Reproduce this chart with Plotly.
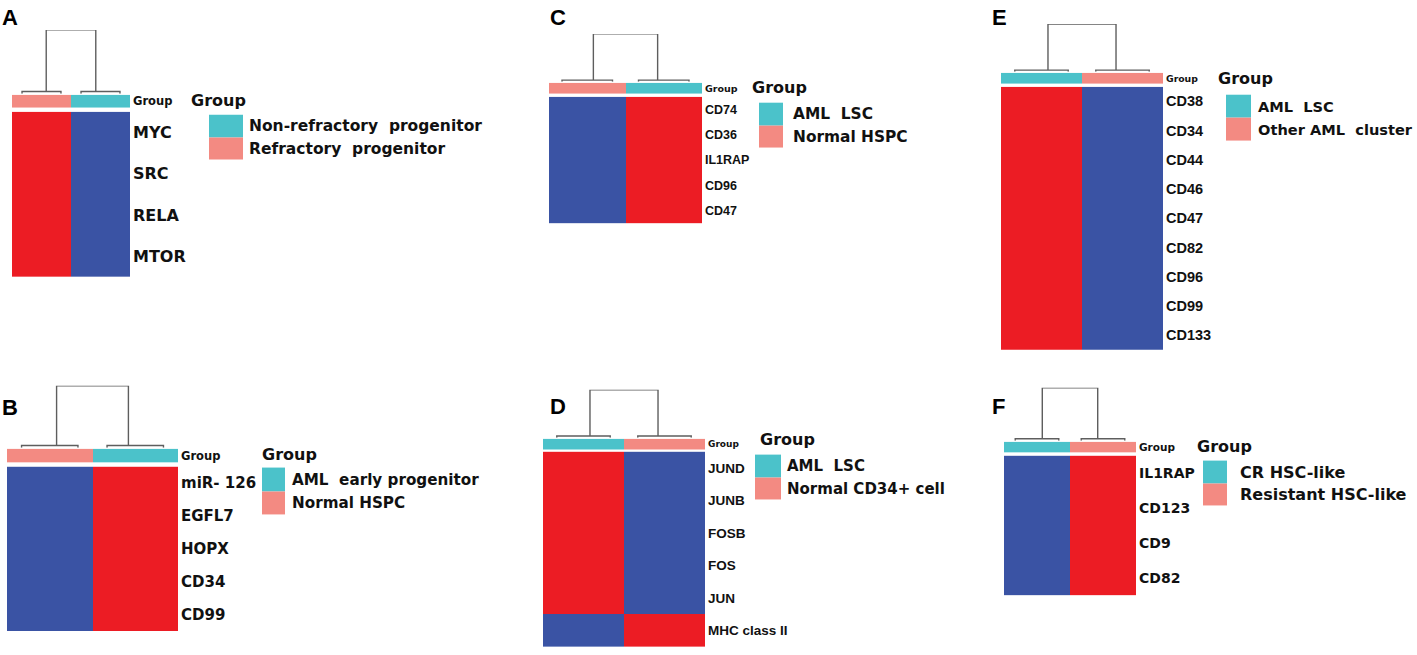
import plotly.graph_objects as go

W, H = 1417, 655

RED = "#EC1C24"
BLUE = "#3A53A4"
CYAN = "#4BC2CA"
SALMON = "#F38A82"
DGREY = "#5E5E5E"
FONT = "DejaVu Sans"
GFONT = "Liberation Sans"
NB = "\u00a0"

# ---------------- data ----------------
A_genes = ["MYC", "SRC", "RELA", "MTOR"]
A_cols = ["Refractory" + NB + " progenitor", "Non-refractory" + NB + " progenitor"]
A_values = [[1, -1], [1, -1], [1, -1], [1, -1]]
A_legend = ["Non-refractory" + NB + " progenitor", "Refractory" + NB + " progenitor"]

B_genes = ["miR- 126", "EGFL7", "HOPX", "CD34", "CD99"]
B_cols = ["Normal HSPC", "AML" + NB + " early progenitor"]
B_values = [[-1, 1], [-1, 1], [-1, 1], [-1, 1], [-1, 1]]
B_legend = ["AML" + NB + " early progenitor", "Normal HSPC"]

C_genes = ["CD74", "CD36", "IL1RAP", "CD96", "CD47"]
C_cols = ["Normal HSPC", "AML" + NB + " LSC"]
C_values = [[-1, 1], [-1, 1], [-1, 1], [-1, 1], [-1, 1]]
C_legend = ["AML" + NB + " LSC", "Normal HSPC"]

D_genes = ["JUND", "JUNB", "FOSB", "FOS", "JUN", "MHC class II"]
D_cols = ["AML" + NB + " LSC", "Normal CD34+ cell"]
D_values = [[1, -1], [1, -1], [1, -1], [1, -1], [1, -1], [-1, 1]]
D_legend = ["AML" + NB + " LSC", "Normal CD34+ cell"]

E_genes = ["CD38", "CD34", "CD44", "CD46", "CD47", "CD82", "CD96", "CD99", "CD133"]
E_cols = ["AML" + NB + " LSC", "Other AML" + NB + " cluster"]
E_values = [[1, -1]] * 9
E_legend = ["AML" + NB + " LSC", "Other AML" + NB + " cluster"]

F_genes = ["IL1RAP", "CD123", "CD9", "CD82"]
F_cols = ["CR HSC-like", "Resistant HSC-like"]
F_values = [[-1, 1], [-1, 1], [-1, 1], [-1, 1]]
F_legend = ["CR HSC-like", "Resistant HSC-like"]

# dendrogram: merge height, sub-cluster height, sub-cluster join positions
dend_merge = 1.0
dend_sub = 0.035
dend_join = [0.08, 0.92]

panels = [
    dict(letter="A", genes=A_genes, cols=A_cols, values=A_values, legend=A_legend,
         hx=(12, 130), hy=(111, 277), gy=(94, 107), dtop=29,
         gfont=FONT, gfs=16, sfs=11.5, lfs=15.5,
         title=(189, 100), sx=(209, 243), sy=(114, 137, 159), tx=247, let=(0, 17)),
    dict(letter="B", genes=B_genes, cols=B_cols, values=B_values, legend=B_legend,
         hx=(7, 178), hy=(467, 632), gy=(449, 463), dtop=386,
         gfont=FONT, gfs=15, sfs=11.5, lfs=15.2,
         title=(260, 455), sx=(262, 285), sy=(468, 492, 515), tx=290, let=(0, 408)),
    dict(letter="C", genes=C_genes, cols=C_cols, values=C_values, legend=C_legend,
         hx=(549, 702), hy=(96, 223), gy=(82, 93), dtop=33,
         gfont=GFONT, gfs=12.5, sfs=9.5, lfs=15.4,
         title=(750, 87), sx=(759, 783), sy=(102, 125, 147), tx=791, let=(548, 17)),
    dict(letter="D", genes=D_genes, cols=D_cols, values=D_values, legend=D_legend,
         hx=(543, 705), hy=(452, 648), gy=(439, 450), dtop=390,
         gfont=GFONT, gfs=13.5, sfs=9, lfs=15,
         title=(758, 440), sx=(755, 781), sy=(455, 478, 500), tx=785, let=(548, 407)),
    dict(letter="E", genes=E_genes, cols=E_cols, values=E_values, legend=E_legend,
         hx=(1001, 1163), hy=(86, 350), gy=(72, 83), dtop=23,
         gfont=GFONT, gfs=14.5, sfs=9.3, lfs=14.6,
         title=(1216, 78), sx=(1226, 1251), sy=(94, 117, 140), tx=1256, let=(990, 17)),
    dict(letter="F", genes=F_genes, cols=F_cols, values=F_values, legend=F_legend,
         hx=(1004, 1136), hy=(456, 596), gy=(442, 453), dtop=388,
         gfont=FONT, gfs=14, sfs=10.5, lfs=16,
         title=(1195, 447), sx=(1203, 1227), sy=(461, 484, 506), tx=1238, let=(990, 407)),
]


def fx(px):
    return px / W


def fy(py):
    return 1 - py / H


fig = go.Figure()
layout = {}
shapes = []
annotations = []
ax = 0

for p in panels:
    color_of = {p["legend"][0]: 0, p["legend"][1]: 1}
    # --- heatmap ---
    ax += 1
    xa, ya = f"x{ax}", f"y{ax}"
    fig.add_trace(go.Heatmap(z=p["values"], x=[0, 1], y=p["genes"], xaxis=xa, yaxis=ya,
                             colorscale=[[0, BLUE], [1, RED]], zmin=-1, zmax=1,
                             showscale=False, hoverinfo="skip"))
    layout[f"xaxis{ax}"] = dict(domain=[fx(p["hx"][0]), fx(p["hx"][1])], range=[-0.5, 1.5],
                                visible=False, fixedrange=True)
    layout[f"yaxis{ax}"] = dict(domain=[fy(p["hy"][1]), fy(p["hy"][0])], autorange="reversed",
                                side="right", anchor=xa, showgrid=False, zeroline=False,
                                showline=False, ticks="", ticklabelstandoff=2, fixedrange=True,
                                tickfont=dict(family=p["gfont"], size=p["gfs"], color="#111",
                                              weight="bold"))
    # --- group bar ---
    ax += 1
    xb, yb = f"x{ax}", f"y{ax}"
    fig.add_trace(go.Heatmap(z=[[color_of[c] for c in p["cols"]]], x=[0, 1], y=["Group"],
                             xaxis=xb, yaxis=yb, colorscale=[[0, CYAN], [1, SALMON]],
                             zmin=0, zmax=1, showscale=False, hoverinfo="skip"))
    layout[f"xaxis{ax}"] = dict(domain=[fx(p["hx"][0]), fx(p["hx"][1])], range=[-0.5, 1.5],
                                visible=False, fixedrange=True)
    layout[f"yaxis{ax}"] = dict(domain=[fy(p["gy"][1]), fy(p["gy"][0])], side="right", anchor=xb,
                                showgrid=False, zeroline=False, showline=False, ticks="",
                                ticklabelstandoff=2, fixedrange=True,
                                tickfont=dict(family=FONT, size=p["sfs"], color="#111",
                                              weight="bold"))
    # --- dendrogram ---
    ax += 1
    xd, yd = f"x{ax}", f"y{ax}"
    dx, dy = [], []
    for c in range(2):
        dx += [c - 0.33, c - 0.33, c + 0.33, c + 0.33, None]
        dy += [0, dend_sub, dend_sub, 0, None]
    j0, j1 = dend_join
    dx += [j0, j0, j1, j1, None]
    dy += [dend_sub, dend_merge, dend_merge, dend_sub, None]
    fig.add_trace(go.Scatter(x=dx, y=dy, mode="lines", xaxis=xd, yaxis=yd,
                             line=dict(color=DGREY, width=1.4), hoverinfo="skip",
                             showlegend=False))
    layout[f"xaxis{ax}"] = dict(domain=[fx(p["hx"][0]), fx(p["hx"][1])], range=[-0.5, 1.5],
                                visible=False, fixedrange=True)
    layout[f"yaxis{ax}"] = dict(domain=[fy(p["gy"][0] - 1), fy(p["dtop"])], range=[0, dend_merge],
                                visible=False, anchor=xd, fixedrange=True)
    # --- legend ---
    annotations.append(dict(text="Group", x=fx(p["title"][0]), y=fy(p["title"][1]),
                            xref="paper", yref="paper", xanchor="left", yanchor="middle",
                            showarrow=False,
                            font=dict(family=FONT, size=16, color="#111", weight="bold")))
    for i, (lab, col) in enumerate(zip(p["legend"], [CYAN, SALMON])):
        shapes.append(dict(type="rect", xref="paper", yref="paper",
                           x0=fx(p["sx"][0]), x1=fx(p["sx"][1]),
                           y0=fy(p["sy"][i + 1]), y1=fy(p["sy"][i]),
                           fillcolor=col, line=dict(width=0)))
        annotations.append(dict(text=lab, x=fx(p["tx"]),
                                y=fy((p["sy"][i] + p["sy"][i + 1]) / 2),
                                xref="paper", yref="paper", xanchor="left", yanchor="middle",
                                showarrow=False,
                                font=dict(family=FONT, size=p["lfs"], color="#111",
                                          weight="bold")))
    annotations.append(dict(text="<b>" + p["letter"] + "</b>", x=fx(p["let"][0]), y=fy(p["let"][1]),
                            xref="paper", yref="paper", xanchor="left", yanchor="middle",
                            showarrow=False,
                            font=dict(family="Liberation Sans", size=22, color="#000")))

fig.update_layout(width=W, height=H, autosize=False, margin=dict(l=0, r=0, t=0, b=0),
                  plot_bgcolor="white", paper_bgcolor="white", showlegend=False,
                  shapes=shapes, annotations=annotations, **layout)

fig.write_html("out.html", config={"displayModeBar": False},
               post_script="document.body.style.margin='0px';document.body.style.overflow='hidden';")
